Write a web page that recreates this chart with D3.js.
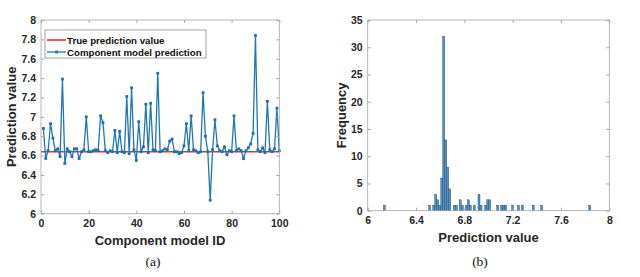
<!DOCTYPE html>
<html lang="en">
<head>
  <meta charset="UTF-8">
  <title>Component model predictions</title>
  <script src="https://d3js.org/d3.v7.min.js"></script>
  <style>
    body { margin: 0; background: #fff; }
    svg { display: block; }
    .tick text { font-family: "Liberation Sans", Arial, sans-serif; font-weight: bold; font-size: 10.5px; fill: #262626; }
    .lbl { font-family: "Liberation Sans", Arial, sans-serif; font-weight: bold; font-size: 13px; fill: #262626; }
    .leg { font-family: "Liberation Sans", Arial, sans-serif; font-weight: bold; font-size: 9.7px; fill: #111; }
    .cap { font-family: "Liberation Serif", "Times New Roman", serif; font-size: 13.5px; fill: #111; }
  </style>
</head>
<body>
  <svg id="fig" width="640" height="277"></svg>
  <script>
    // (a) component model predictions, model ID 1..100
    const truePrediction = 6.64;
    const predictions = [
      6.88, 6.57, 6.65, 6.93, 6.78, 6.65, 6.67, 6.59, 7.39, 6.52,
      6.67, 6.64, 6.59, 6.67, 6.67, 6.57, 6.64, 6.66, 7.00, 6.64,
      6.64, 6.65, 6.66, 6.65, 7.01, 6.94, 6.65, 6.63, 6.65, 6.64,
      6.86, 6.63, 6.85, 6.64, 6.63, 7.21, 6.62, 7.30, 6.66, 6.55,
      6.95, 6.64, 6.69, 7.13, 6.63, 7.14, 6.66, 6.65, 7.45, 6.64,
      6.65, 6.67, 6.66, 6.75, 6.77, 6.64, 6.64, 6.62, 6.63, 6.70,
      6.93, 6.65, 7.01, 6.66, 6.65, 6.63, 6.64, 7.25, 6.80, 6.64,
      6.14, 6.66, 6.97, 6.70, 6.65, 6.64, 6.69, 6.61, 6.65, 6.64,
      7.01, 6.65, 6.67, 6.65, 6.57, 6.65, 6.68, 6.72, 6.83, 7.84,
      6.66, 6.64, 6.68, 6.63, 7.16, 6.66, 6.64, 6.67, 7.09, 6.65
    ];
    const xTicksA = [0, 20, 40, 60, 80, 100];
    const yTicksA = [6, 6.2, 6.4, 6.6, 6.8, 7, 7.2, 7.4, 7.6, 7.8, 8];

    // (b) histogram: left bin edge and count
    const binWidth = 0.0166;
    const binLefts = [
      6.130, 6.505, 6.538, 6.555, 6.571, 6.588, 6.605, 6.621, 6.638, 6.654,
      6.671, 6.709, 6.726, 6.758, 6.775, 6.808, 6.825, 6.841, 6.874, 6.913,
      6.930, 6.968, 6.985, 7.001, 7.068, 7.101, 7.117, 7.134, 7.192, 7.240,
      7.272, 7.362, 7.432, 7.830
    ];
    const binCounts = [
      1, 1, 1, 3, 2, 1, 6, 32, 13, 8,
      4, 1, 1, 2, 1, 1, 2, 1, 1, 3,
      1, 1, 2, 2, 1, 1, 1, 1, 1, 1,
      1, 1, 1, 1
    ];
    const xTicksB = [6, 6.4, 6.8, 7.2, 7.6, 8];
    const yTicksB = [0, 5, 10, 15, 20, 25, 30, 35];

    const svg = d3.select("#fig");
    const boxColor = "#a6a6a6";

    function frame(g, x, y, xTicks, yTicks, xFmt, yFmt) {
      const [x0, x1] = x.range();
      const [y0, y1] = y.range();
      g.append("g").attr("transform", `translate(0,${y0})`)
        .call(d3.axisBottom(x).tickValues(xTicks).tickFormat(xFmt).tickSize(-3).tickPadding(6))
        .call(a => a.select(".domain").remove());
      g.append("g").attr("transform", `translate(0,${y1})`)
        .call(d3.axisTop(x).tickValues(xTicks).tickFormat("").tickSize(-3))
        .call(a => a.select(".domain").remove());
      g.append("g").attr("transform", `translate(${x0},0)`)
        .call(d3.axisLeft(y).tickValues(yTicks).tickFormat(yFmt).tickSize(-3).tickPadding(5))
        .call(a => a.select(".domain").remove());
      g.append("g").attr("transform", `translate(${x1},0)`)
        .call(d3.axisRight(y).tickValues(yTicks).tickFormat("").tickSize(-3))
        .call(a => a.select(".domain").remove());
      g.selectAll(".tick line").attr("stroke", boxColor);
      g.append("rect")
        .attr("x", x0).attr("y", y1)
        .attr("width", x1 - x0).attr("height", y0 - y1)
        .attr("fill", "none").attr("stroke", boxColor).attr("stroke-width", 0.8);
    }

    // ---------- panel (a) ----------
    const ga = svg.append("g");
    const xa = d3.scaleLinear().domain([0, 100]).range([41, 279.3]);
    const ya = d3.scaleLinear().domain([6, 8]).range([213.7, 20]);

    ga.append("line")
      .attr("x1", xa(0)).attr("x2", xa(100))
      .attr("y1", ya(truePrediction)).attr("y2", ya(truePrediction))
      .attr("stroke", "#d93838").attr("stroke-width", 1.6);

    const line = d3.line().x((d, i) => xa(i + 1)).y(d => ya(d));
    ga.append("path").datum(predictions)
      .attr("d", line)
      .attr("fill", "none").attr("stroke", "#1f77bb").attr("stroke-width", 1.3);
    ga.selectAll("rect.pt").data(predictions).enter().append("rect")
      .attr("class", "pt")
      .attr("x", (d, i) => xa(i + 1) - 1.4).attr("y", d => ya(d) - 1.4)
      .attr("width", 2.8).attr("height", 2.8)
      .attr("fill", "#1f6fb0");

    frame(ga, xa, ya, xTicksA, yTicksA, d3.format("d"), d => d3.format("~g")(d));

    // legend
    const leg = ga.append("g");
    leg.append("rect").attr("x", 45).attr("y", 30).attr("width", 161).attr("height", 28)
      .attr("fill", "#fff").attr("stroke", "#8c8c8c").attr("stroke-width", 0.8);
    leg.append("line").attr("x1", 47).attr("x2", 66).attr("y1", 40).attr("y2", 40)
      .attr("stroke", "#d93838").attr("stroke-width", 1.6);
    leg.append("line").attr("x1", 47).attr("x2", 66).attr("y1", 52).attr("y2", 52)
      .attr("stroke", "#1f77bb").attr("stroke-width", 1.3);
    leg.append("rect").attr("x", 55.1).attr("y", 50.6).attr("width", 2.8).attr("height", 2.8)
      .attr("fill", "#1f6fb0");
    leg.append("text").attr("class", "leg").attr("x", 67).attr("y", 43.5).text("True prediction value");
    leg.append("text").attr("class", "leg").attr("x", 67).attr("y", 55.5).text("Component model prediction");

    ga.append("text").attr("class", "lbl").attr("text-anchor", "middle")
      .attr("x", 160).attr("y", 245).text("Component model ID");
    ga.append("text").attr("class", "lbl").attr("text-anchor", "middle")
      .attr("transform", `translate(16,${(20 + 213.7) / 2}) rotate(-90)`).text("Prediction value");
    ga.append("text").attr("class", "cap").attr("text-anchor", "middle")
      .attr("x", 153).attr("y", 266).text("(a)");

    // ---------- panel (b) ----------
    const gb = svg.append("g");
    const xb = d3.scaleLinear().domain([6, 8]).range([367.7, 609.3]);
    const yb = d3.scaleLinear().domain([0, 35]).range([210.7, 20]);

    gb.selectAll("rect.bar").data(binLefts).enter().append("rect")
      .attr("class", "bar")
      .attr("x", d => xb(d))
      .attr("width", xb(binWidth) - xb(0))
      .attr("y", (d, i) => yb(binCounts[i]))
      .attr("height", (d, i) => yb(0) - yb(binCounts[i]))
      .attr("fill", "#4d93cc").attr("stroke", "#2b3f55").attr("stroke-width", 0.4);

    frame(gb, xb, yb, xTicksB, yTicksB, d => d3.format("~g")(d), d3.format("d"));

    gb.append("text").attr("class", "lbl").attr("text-anchor", "middle")
      .attr("x", xb(7)).attr("y", 242).text("Prediction value");
    gb.append("text").attr("class", "lbl").attr("text-anchor", "middle")
      .attr("transform", `translate(346,${(20 + 210.7) / 2}) rotate(-90)`).text("Frequency");
    gb.append("text").attr("class", "cap").attr("text-anchor", "middle")
      .attr("x", 480).attr("y", 266).text("(b)");
  </script>
</body>
</html>
